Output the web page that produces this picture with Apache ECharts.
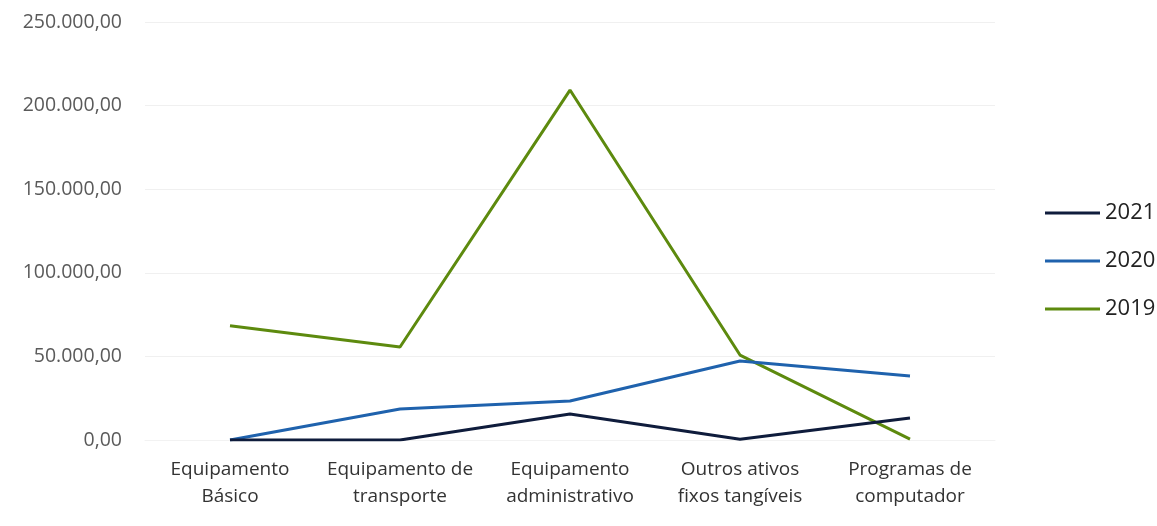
<!DOCTYPE html>
<html><head><meta charset="utf-8">
<script src="https://cdn.jsdelivr.net/npm/echarts@6/dist/echarts.min.js"></script>
<style>html,body{margin:0;padding:0;background:#fff}#c{width:1157px;height:526px}</style>
</head><body><div id="c"></div>
<script>
const categories = ['Equipamento\nBásico','Equipamento de\ntransporte','Equipamento\nadministrativo','Outros ativos\nfixos tangíveis','Programas de\ncomputador'];
const seriesNames = ['2021','2020','2019'];
const values2021 = [0, 0, 15500, 500, 13200];
const values2020 = [0, 18500, 23300, 47200, 38300];
const values2019 = [68300, 55600, 209300, 50800, 500];
const yTicks = [0, 50000, 100000, 150000, 200000, 250000];
const colors = ['#0f1c3c', '#1f62ad', '#5d8a0e'];

function fmt(v){
  const s = Math.round(v).toString().replace(/\B(?=(\d{3})+(?!\d))/g, '.');
  return s + ',00';
}
const chart = echarts.init(document.getElementById('c'));
const data = [values2021, values2020, values2019];
chart.setOption({
  animation:false,
  grid:{left:145, right:162, top:22, bottom:86},
  xAxis:{type:'category', data:categories, boundaryGap:true,
    axisLine:{show:true, lineStyle:{color:'#f2f2f2'}}, axisTick:{show:false},
    axisLabel:{color:'#333', fontFamily:'Open Sans', fontSize:19, lineHeight:27, margin:16, interval:0}},
  yAxis:{type:'value', min:yTicks[0], max:yTicks[yTicks.length-1], interval:50000,
    axisLine:{show:false}, axisTick:{show:false},
    splitLine:{lineStyle:{color:'#f0f0f0', width:1}},
    axisLabel:{color:'#5a5a5a', fontFamily:'Open Sans', fontSize:19.5, margin:23, formatter:fmt}},
  legend:{orient:'vertical', left:1040, top:197, icon:'rect', itemWidth:55, itemHeight:3, itemGap:26,
    textStyle:{color:'#222', fontFamily:'Open Sans', fontSize:22, padding:[0,0,0,0]},
    data:seriesNames},
  series: seriesNames.map((n,i)=>({name:n, type:'line', data:data[i], symbol:'none',
    lineStyle:{color:colors[i], width:3}, itemStyle:{color:colors[i]}, z: 3-i}))
});
</script></body></html>
